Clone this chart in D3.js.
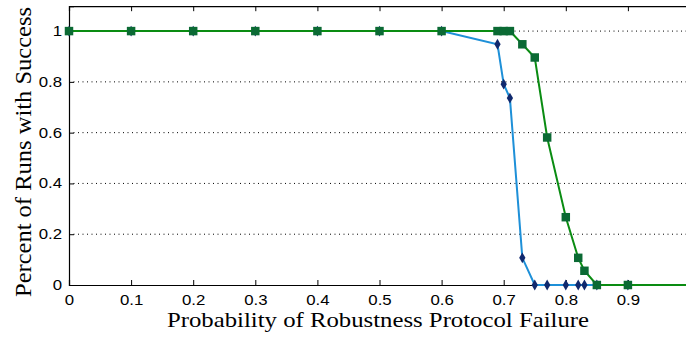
<!DOCTYPE html>
<html lang="en">
<head>
<meta charset="UTF-8">
<title>Robustness protocol failure</title>
<style>
    body { margin: 0; background: #fff; }
    svg { display: block; }
    .tick text { font-family: "Liberation Sans", Arial, sans-serif; font-size: 14px; fill: #000; }
    .lbl { font-family: "Liberation Serif", "Times New Roman", serif; fill: #000; }
</style>
<script src="https://cdn.jsdelivr.net/npm/d3@7"></script>
</head>
<body>
<svg id="chart" width="686" height="338"></svg>
<script>
    // data
    const xTicks = [0, 0.1, 0.2, 0.3, 0.4, 0.5, 0.6, 0.7, 0.8, 0.9];
    const yTicks = [0, 0.2, 0.4, 0.6, 0.8, 1];
    const gridY = [0.2, 0.4, 0.6, 0.8, 1];

    const blueX = [0, 0.1, 0.2, 0.3, 0.4, 0.5, 0.6, 0.69, 0.70, 0.71, 0.73, 0.75, 0.77, 0.80, 0.82, 0.83, 0.85, 0.90, 1.0];
    const blueY = [1, 1, 1, 1, 1, 1, 1, 0.948, 0.791, 0.736, 0.107, 0, 0, 0, 0, 0, 0, 0, 0];

    const greenX = [0, 0.1, 0.2, 0.3, 0.4, 0.5, 0.6, 0.69, 0.70, 0.71, 0.73, 0.75, 0.77, 0.80, 0.82, 0.83, 0.85, 0.90, 1.0];
    const greenY = [1, 1, 1, 1, 1, 1, 1, 1, 1, 1, 0.948, 0.896, 0.581, 0.267, 0.107, 0.056, 0, 0, 0];

    const plotL = 69, plotR = 690, plotT = 6.2, plotB = 285;

    const svg = d3.select('#chart');
    const x = d3.scaleLinear().domain([0, 1]).range([plotL, plotR]);
    const y = d3.scaleLinear().domain([0, 1.098]).range([plotB, plotT]);

    // grid
    svg.append('g').selectAll('line').data(gridY).enter().append('line')
        .attr('x1', plotL).attr('x2', plotR)
        .attr('y1', d => y(d)).attr('y2', d => y(d))
        .attr('stroke', '#000').attr('stroke-width', 1)
        .attr('stroke-dasharray', '1,3.5');

    // axes (ticks inward)
    const xb = svg.append('g').attr('transform', `translate(0,${plotB})`)
        .call(d3.axisBottom(x).tickValues(xTicks).tickSize(-5).tickPadding(10)
            .tickFormat(d => d === 0 ? '0' : d3.format('.1f')(d)));
    const xt = svg.append('g').attr('transform', `translate(0,${plotT})`)
        .call(d3.axisTop(x).tickValues(xTicks).tickSize(-5).tickFormat(''));
    const yl = svg.append('g').attr('transform', `translate(${plotL},0)`)
        .call(d3.axisLeft(y).tickValues(yTicks).tickSize(-5).tickPadding(7)
            .tickFormat(d => (d === 0 || d === 1) ? String(d) : d3.format('.1f')(d)));
    [xb, xt, yl].forEach(g => {
        g.select('.domain').attr('stroke', '#000').attr('stroke-width', 1.2);
        g.selectAll('.tick line').attr('stroke', '#000');
        // the reference glyphs are drawn wider than the font's natural width
        g.selectAll('.tick text').each(function () {
            const w = this.getComputedTextLength();
            d3.select(this).attr('textLength', w * 1.2).attr('lengthAdjust', 'spacingAndGlyphs');
        });
    });

    function series(xs, ys, lineColor, markColor, shape, size) {
        const pts = xs.map((v, i) => [v, ys[i]]);
        svg.append('path').datum(pts)
            .attr('fill', 'none').attr('stroke', lineColor).attr('stroke-width', 2)
            .attr('d', d3.line().x(d => x(d[0])).y(d => y(d[1])));
        svg.append('g').selectAll('path').data(pts.filter(d => d[0] < 1)).enter().append('path')
            .attr('transform', d => `translate(${x(d[0])},${y(d[1])})`)
            .attr('d', d3.symbol().type(shape).size(size))
            .attr('fill', markColor);
    }
    series(blueX, blueY, '#1e90d8', '#10296e', d3.symbolDiamond, 34);
    series(greenX, greenY, '#0a8c12', '#0b6a34', d3.symbolSquare, 72);

    // axis labels
    svg.append('text').attr('class', 'lbl')
        .attr('x', 378).attr('y', 327).attr('text-anchor', 'middle')
        .attr('font-size', 21).attr('textLength', 422).attr('lengthAdjust', 'spacingAndGlyphs')
        .text('Probability of Robustness Protocol Failure');
    svg.append('text').attr('class', 'lbl')
        .attr('transform', 'translate(31,152) rotate(-90)').attr('text-anchor', 'middle')
        .attr('font-size', 23).attr('textLength', 290).attr('lengthAdjust', 'spacingAndGlyphs')
        .text('Percent of Runs with Success');
</script>
</body>
</html>
